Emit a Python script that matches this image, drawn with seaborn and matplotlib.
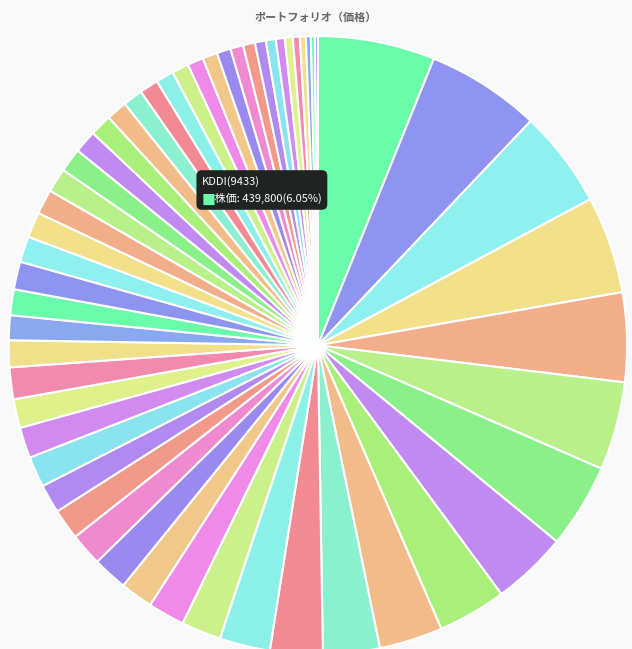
import matplotlib
matplotlib.use("Agg")
import matplotlib.pyplot as plt
import seaborn as sns

sns.set_theme(style="white")
plt.rcParams['font.family'] = ['Noto Sans CJK JP', 'DejaVu Sans']

# slice sizes (share of portfolio, %)
shares = [5.9, 5.75, 4.9, 4.9, 4.5, 4.45, 4.25, 3.8, 3.45, 3.2, 2.85, 2.65, 2.55,
          2.0, 1.85, 1.65, 1.75, 1.65, 1.55, 1.45, 1.55, 1.55, 1.45, 1.6, 1.35, 1.25, 1.3, 1.4,
          1.3, 1.28, 1.25, 1.22, 1.2, 1.15, 1.1, 1.05, 1.0, 0.95, 0.9, 0.85, 0.8, 0.75,
          0.7, 0.65, 0.6, 0.55, 0.5, 0.45, 0.4, 0.35, 0.3, 0.25, 0.2, 0.15]
palette = ["#6afcaa", "#8f94f0", "#8ff0f0", "#f2e08a", "#f2ad8a", "#b8f08a", "#8af08a",
           "#c08af0", "#a8f07a", "#f2bc8a", "#8af0d0", "#f28a94", "#8af0e8", "#ccf08a",
           "#f08ae8", "#f2c88a", "#9a8af0", "#f08ad0", "#f29a8a", "#b08af0", "#8ae4f0",
           "#d08af0", "#e0f08a", "#f28ab0", "#f0e08a", "#8aa8f0"]
colors = [palette[i % len(palette)] for i in range(len(shares))]

fig = plt.figure(figsize=(6.32, 6.49), dpi=100)
fig.patch.set_facecolor("#f8f9fb")
w, h = 0.998, 0.972
ax = fig.add_axes([0.503 - w / 2, 0.468 - h / 2, w, h])
ax.pie(shares, colors=colors, startangle=90, counterclock=False, radius=1,
       wedgeprops=dict(edgecolor="white", linewidth=1.5))
ax.set_xlim(-1.02, 1.02)
ax.set_ylim(-1.02, 1.02)
ax.set_aspect("equal")
ax.axis("off")

fig.text(0.5, 1 - 17 / 649, "ポートフォリオ（価格）", ha="center", va="center",
         fontsize=8, color="#666666", fontweight="bold")

fig.text(202 / 632, 1 - 190 / 649, "KDDI(9433)\n     株価: 439,800(6.05%)", ha="left",
         va="center", fontsize=8, color="white", linespacing=1.7,
         bbox=dict(boxstyle="round,pad=0.5", fc="#1e2420", ec="none"))
fig.text(202 / 632, 1 - 201 / 649, "■", ha="left", va="center", fontsize=10,
         color="#6afcaa")
fig.text(240 / 632, 1 - 180 / 649, "", ha="left")
fig.savefig("out.png", dpi=100, facecolor=fig.get_facecolor())
